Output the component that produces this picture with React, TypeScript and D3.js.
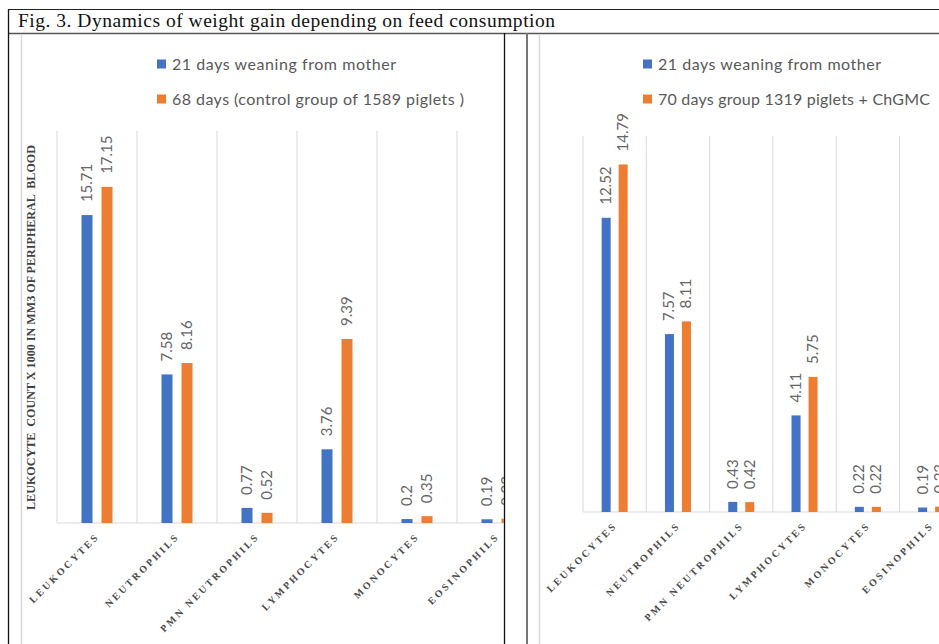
import React from "react";
import * as d3 from "d3";

const categories = ["LEUKOCYTES", "NEUTROPHILS", "PMN NEUTROPHILS", "LYMPHOCYTES", "MONOCYTES", "EOSINOPHILS"];
const seriesNames = ["s1", "s2"];
const leftWeaning = [15.71, 7.58, 0.77, 3.76, 0.2, 0.19];
const leftControl = [17.15, 8.16, 0.52, 9.39, 0.35, 0.22];
const rightWeaning = [12.52, 7.57, 0.43, 4.11, 0.22, 0.19];
const rightChgmc = [14.79, 8.11, 0.42, 5.75, 0.22, 0.23];
const leftLegend = ["21 days weaning from mother", "68 days (control group of 1589 piglets )"];
const rightLegend = ["21 days weaning from mother", "70 days group 1319 piglets + ChGMC"];
const titleText = "Fig. 3. Dynamics of weight gain depending on feed consumption";
const yTitle = "LEUKOCYTE  COUNT X 1000 IN MM3 OF PERIPHERAL  BLOOD";

const BLUE = "#4472C4";
const ORANGE = "#ED7D31";
const GRID = "#d9d9d9";
const LABEL = "#595959";

type PanelProps = {
  id: string;
  a: number[];
  b: number[];
  legend: string[];
  legendWidths: number[];
  legendX: number;
  plotLeft: number;
  catWidth: number;
  baseline: number;
  yMax: number;
  pxPerUnit: number;
  barPad: number;
  outerPad: number;
  clipLeft: number;
  clipRight: number;
};

function Panel(p: PanelProps) {
  const x0 = d3
    .scaleBand<string>()
    .domain(categories)
    .range([p.plotLeft, p.plotLeft + p.catWidth * categories.length])
    .padding(0);
  const x1 = d3
    .scaleBand<string>()
    .domain(seriesNames)
    .range([0, x0.bandwidth()])
    .paddingInner(p.barPad)
    .paddingOuter(p.outerPad);
  const y = d3
    .scaleLinear()
    .domain([0, p.yMax])
    .range([p.baseline, p.baseline - p.yMax * p.pxPerUnit]);
  const top = y(p.yMax);
  const rows = [p.a, p.b];
  const colors = [BLUE, ORANGE];
  const bounds = [...categories.map((c) => x0(c) as number), (x0(categories[categories.length - 1]) as number) + x0.bandwidth()];

  return (
    <g>
      <defs>
        <clipPath id={p.id}>
          <rect x={p.clipLeft} y={0} width={p.clipRight - p.clipLeft} height={644} />
        </clipPath>
      </defs>
      {p.legend.map((t, i) => (
        <g key={t}>
          <rect x={p.legendX} y={59.5 + i * 35} width={9} height={9} fill={colors[i]} />
          <text
            x={p.legendX + 15}
            y={69.5 + i * 35}
            fontFamily="Lato, 'Open Sans', sans-serif"
            fontSize={16}
            fill={LABEL}
            textLength={p.legendWidths[i]}
            lengthAdjust="spacing"
          >
            {t}
          </text>
        </g>
      ))}
      <g clipPath={`url(#${p.id})`}>
        {bounds.map((bx, i) => (
          <line key={i} x1={bx} x2={bx} y1={top} y2={p.baseline} stroke={GRID} strokeWidth={1} />
        ))}
        <line x1={p.plotLeft} x2={bounds[bounds.length - 1]} y1={p.baseline} y2={p.baseline} stroke={GRID} strokeWidth={1} />
        {categories.map((c, ci) => (
          <g key={c}>
            {rows.map((r, si) => {
              const bx = (x0(c) as number) + (x1(seriesNames[si]) as number);
              const bw = x1.bandwidth();
              const by = y(r[ci]);
              const cx = bx + bw / 2;
              return (
                <g key={si}>
                  <rect x={bx} y={by} width={bw} height={p.baseline - by} fill={colors[si]} />
                  <text
                    transform={`translate(${cx + 5},${by - 13}) rotate(-90)`}
                    fontFamily="Lato, 'Open Sans', sans-serif"
                    fontSize={15}
                    fill="#666"
                  >
                    {String(r[ci])}
                  </text>
                </g>
              );
            })}
            <text
              transform={`translate(${(x0(c) as number) + x0.bandwidth() / 2 + 3},${p.baseline + 14}) rotate(-45)`}
              textAnchor="end"
              fontFamily="'Liberation Serif', 'Times New Roman', serif"
              fontWeight="bold"
              fontSize={10}
              letterSpacing={2.5}
              fill="#4a4a4a"
            >
              {c}
            </text>
          </g>
        ))}
      </g>
    </g>
  );
}

export default function App() {
  return (
    <div style={{ position: "absolute", left: 0, top: 0, width: 939, height: 644, background: "#fff" }}>
      <svg width={939} height={644} viewBox="0 0 939 644" style={{ display: "block" }}>
        <rect x={0} y={0} width={939} height={644} fill="#fff" />
        <line x1={8} x2={939} y1={9.5} y2={9.5} stroke="#222" strokeWidth={1.2} />
        <line x1={8} x2={939} y1={33.5} y2={33.5} stroke="#555" strokeWidth={1.5} />
        <line x1={8.5} x2={8.5} y1={9} y2={644} stroke="#111" strokeWidth={1.3} />
        <line x1={504.5} x2={504.5} y1={33} y2={644} stroke="#111" strokeWidth={1.3} />
        <line x1={527} x2={527} y1={33} y2={644} stroke="#777" strokeWidth={2} />
        <line x1={21.5} x2={21.5} y1={34} y2={644} stroke={GRID} strokeWidth={1.5} />
        <line x1={539.5} x2={539.5} y1={34} y2={644} stroke={GRID} strokeWidth={1.5} />
        <text
          x={18}
          y={27}
          fontFamily="'Liberation Serif', 'Times New Roman', serif"
          fontSize={19.5}
          fill="#111"
          textLength={537}
          lengthAdjust="spacing"
        >
          {titleText}
        </text>
        <text
          transform="translate(35,327.5) rotate(-90)"
          textAnchor="middle"
          fontFamily="'Liberation Serif', 'Times New Roman', serif"
          fontWeight="bold"
          fontSize={12}
          fill="#404040"
          textLength={365}
          lengthAdjust="spacingAndGlyphs"
          style={{ whiteSpace: "pre" }}
        >
          {yTitle}
        </text>
        <Panel
          id="clipL"
          a={leftWeaning}
          b={leftControl}
          legend={leftLegend}
          legendWidths={[224, 292]}
          legendX={157}
          plotLeft={57}
          catWidth={80}
          baseline={523}
          yMax={20}
          pxPerUnit={19.6}
          barPad={0.45}
          outerPad={1.225}
          clipLeft={22}
          clipRight={504}
        />
        <Panel
          id="clipR"
          a={rightWeaning}
          b={rightChgmc}
          legend={rightLegend}
          legendWidths={[223, 272]}
          legendX={643}
          plotLeft={583}
          catWidth={63.3}
          baseline={512}
          yMax={16}
          pxPerUnit={23.5}
          barPad={0.47}
          outerPad={1.096}
          clipLeft={540}
          clipRight={939}
        />
      </svg>
    </div>
  );
}
